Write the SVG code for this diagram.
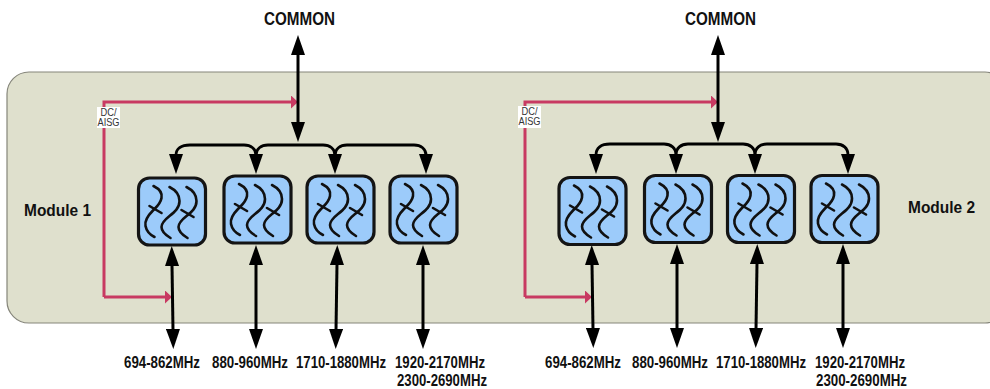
<svg xmlns="http://www.w3.org/2000/svg" width="990" height="389" viewBox="0 0 990 389">
<style>
.mod{fill:#dfe0cd;stroke:#85857a;stroke-width:1.2}
.box{fill:#9ccbfa;stroke:#141414;stroke-width:3.2}
.w{fill:none;stroke:#111;stroke-width:2.6;stroke-linecap:round}
.k{fill:none;stroke:#000;stroke-width:3}
.b{fill:none;stroke:#000;stroke-width:2.8}
.r{fill:none;stroke:#c83a62;stroke-width:3}
.t{font-family:"Liberation Sans",Arial,sans-serif;font-weight:bold;font-size:16px;fill:#111}
.c{font-size:18px}
.s{font-family:"Liberation Sans",Arial,sans-serif;font-size:10.500px;fill:#333;text-anchor:middle}
.lab{fill:#fff}
</style>
<defs>
<marker id="ah" markerUnits="userSpaceOnUse" markerWidth="21" markerHeight="14" refX="1" refY="7" orient="auto-start-reverse"><path d="M0,0L20,7L0,14z" fill="#000"/></marker>
<marker id="rh" markerUnits="userSpaceOnUse" markerWidth="8" markerHeight="13" refX="1" refY="6.5" orient="auto"><path d="M0,0L7,6.5L0,13z" fill="#c83a62"/></marker>
<g id="filter">
<rect class="box" x="0" y="0" width="67" height="67" rx="11"/>
<path class="w" d="M15,8C21,11 24,15 23,20C22,26 18,29 14,33C9,38 6,43 7,48C8,53 12,57 16,59"/>
<path class="w" d="M31,9C37,12 41,17 41,23C41,30 36,34 31,38C26,42 23,46 23,49C23,54 27,57 32,60"/>
<path class="w" d="M48,9C54,12 58,17 58,23C58,30 53,34 48,38C43,42 40,46 40,49C40,54 44,57 49,60"/>
<path class="w" d="M11,28L23,35M43,32L55,39"/>
</g>
</defs>
<g id="module-body"><rect class="mod" x="7" y="72" width="1000" height="251" rx="22"/></g>
<g id="connectors">
<path class="r" marker-end="url(#rh)" d="M104,297V102H292"/>
<path class="r" marker-end="url(#rh)" d="M104,297H166"/>
<path class="r" marker-end="url(#rh)" d="M525,297V102H712"/>
<path class="r" marker-end="url(#rh)" d="M525,297H586"/>
<path class="k" marker-start="url(#ah)" marker-end="url(#ah)" d="M298,54V123"/>
<path class="k" marker-start="url(#ah)" marker-end="url(#ah)" d="M718,54V123"/>
<path class="b" marker-end="url(#ah)" d="M190,145C181,145 176,149 176,155"/>
<path class="b" d="M190,145H244"/>
<path class="b" marker-end="url(#ah)" d="M244,145C251,145 256,149 256,155"/>
<path class="b" d="M268,145C261,145 256,149 256,155"/>
<path class="b" d="M268,145H323"/>
<path class="b" marker-end="url(#ah)" d="M323,145C330,145 335,149 335,155"/>
<path class="b" d="M347,145C340,145 335,149 335,155"/>
<path class="b" marker-end="url(#ah)" d="M347,145H414C421,145 426,149 426,155"/>
<path class="b" marker-end="url(#ah)" d="M610,144C601,144 596,148 596,155"/>
<path class="b" d="M610,144H664"/>
<path class="b" marker-end="url(#ah)" d="M664,144C671,144 676,148 676,155"/>
<path class="b" d="M688,144C681,144 676,148 676,155"/>
<path class="b" d="M688,144H743"/>
<path class="b" marker-end="url(#ah)" d="M743,144C750,144 755,148 755,155"/>
<path class="b" d="M767,144C760,144 755,148 755,155"/>
<path class="b" marker-end="url(#ah)" d="M767,144H836C843,144 848,148 848,155"/>
<path class="k" marker-start="url(#ah)" marker-end="url(#ah)" d="M172,265L173,330"/>
<path class="k" marker-start="url(#ah)" marker-end="url(#ah)" d="M256,264V330"/>
<path class="k" marker-start="url(#ah)" marker-end="url(#ah)" d="M337,264L336,330"/>
<path class="k" marker-start="url(#ah)" marker-end="url(#ah)" d="M423,264V330"/>
<path class="k" marker-start="url(#ah)" marker-end="url(#ah)" d="M592,264L593,329"/>
<path class="k" marker-start="url(#ah)" marker-end="url(#ah)" d="M677,263V329"/>
<path class="k" marker-start="url(#ah)" marker-end="url(#ah)" d="M757,263L756,329"/>
<path class="k" marker-start="url(#ah)" marker-end="url(#ah)" d="M843,263V329"/>
</g>
<g id="f1-1"><use href="#filter" x="138.500" y="178"/></g>
<g id="f1-2"><use href="#filter" x="224" y="176"/></g>
<g id="f1-3"><use href="#filter" x="307" y="176"/></g>
<g id="f1-4"><use href="#filter" x="390" y="176"/></g>
<g id="f2-1"><use href="#filter" x="559" y="177.500"/></g>
<g id="f2-2"><use href="#filter" x="644.500" y="175.500"/></g>
<g id="f2-3"><use href="#filter" x="727.500" y="175.500"/></g>
<g id="f2-4"><use href="#filter" x="811" y="175.500"/></g>
<g id="dc1"><rect class="lab" x="97" y="107" width="23" height="21"/><text class="s" x="108.500" y="115.500" textLength="16" lengthAdjust="spacingAndGlyphs">DC/</text><text class="s" x="108.500" y="126" textLength="22" lengthAdjust="spacingAndGlyphs">AISG</text></g>
<g id="dc2"><rect class="lab" x="518" y="106" width="23" height="22"/><text class="s" x="529.500" y="114.500" textLength="16" lengthAdjust="spacingAndGlyphs">DC/</text><text class="s" x="529.500" y="125" textLength="22" lengthAdjust="spacingAndGlyphs">AISG</text></g>
<g id="labels">
<text class="t c" x="264" y="25" textLength="71" lengthAdjust="spacingAndGlyphs">COMMON</text>
<text class="t c" x="685" y="25" textLength="71" lengthAdjust="spacingAndGlyphs">COMMON</text>
<text class="t" x="24" y="216" textLength="67" lengthAdjust="spacingAndGlyphs">Module 1</text>
<text class="t" x="908" y="213" textLength="67" lengthAdjust="spacingAndGlyphs">Module 2</text>
<text class="t" x="124" y="368" textLength="76" lengthAdjust="spacingAndGlyphs">694-862MHz</text>
<text class="t" x="212" y="368" textLength="76" lengthAdjust="spacingAndGlyphs">880-960MHz</text>
<text class="t" x="296" y="368" textLength="90" lengthAdjust="spacingAndGlyphs">1710-1880MHz</text>
<text class="t" x="395" y="368" textLength="90" lengthAdjust="spacingAndGlyphs">1920-2170MHz</text>
<text class="t" x="397" y="386" textLength="90" lengthAdjust="spacingAndGlyphs">2300-2690MHz</text>
<text class="t" x="545" y="368" textLength="76" lengthAdjust="spacingAndGlyphs">694-862MHz</text>
<text class="t" x="632" y="368" textLength="76" lengthAdjust="spacingAndGlyphs">880-960MHz</text>
<text class="t" x="716" y="368" textLength="90" lengthAdjust="spacingAndGlyphs">1710-1880MHz</text>
<text class="t" x="815" y="368" textLength="90" lengthAdjust="spacingAndGlyphs">1920-2170MHz</text>
<text class="t" x="816" y="386" textLength="91" lengthAdjust="spacingAndGlyphs">2300-2690MHz</text>
</g>
</svg>
